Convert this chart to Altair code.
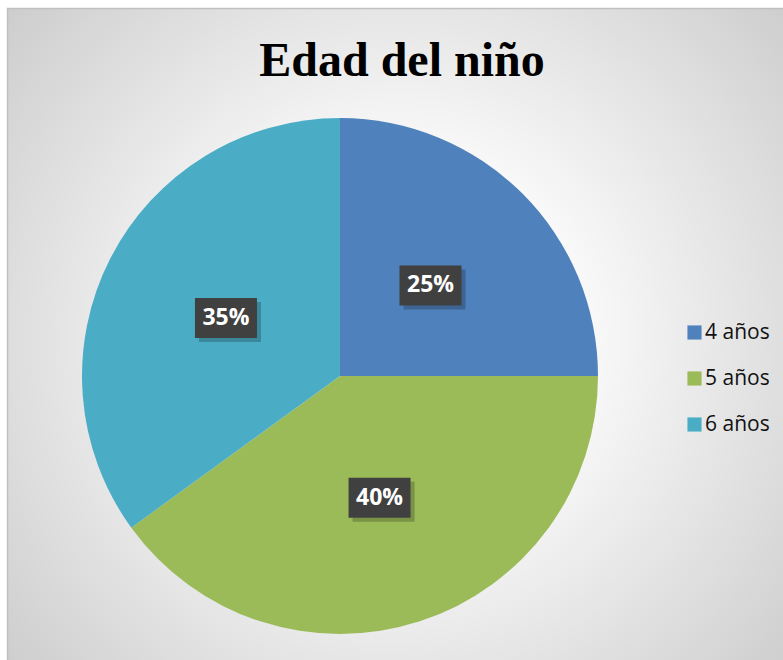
import altair as alt
import pandas as pd

# ---- data ----
TITLE = "Edad del niño"
categories = ["4 años", "5 años", "6 años"]
values = [25, 40, 35]
colors = ["#4F81BD", "#9BBB59", "#4BACC6"]

# ---- layout ----
W, H = 783, 660
CX, CY, R = 340, 376, 258
LR = 128  # label radius
BW, BH = 31, 20  # label box half sizes

df = pd.DataFrame({"edad": categories, "pct": values, "orden": list(range(len(values)))})

bg = alt.Chart(pd.DataFrame({"a": [0]})).mark_rect(
    fill=alt.RadialGradient(
        gradient="radial", x1=0.5, y1=0.5, x2=0.5, y2=0.5, r1=0, r2=0.72,
        stops=[alt.GradientStop(color="#ffffff", offset=0),
               alt.GradientStop(color="#ffffff", offset=0.25),
               alt.GradientStop(color="#c6c6c6", offset=1)]),
    stroke="#c0c0c0", strokeWidth=1.5,
).encode(x=alt.value(7.5), x2=alt.value(W + 10), y=alt.value(8.5), y2=alt.value(H + 10))

title = alt.Chart(pd.DataFrame({"t": [TITLE]})).mark_text(
    font="Liberation Serif", fontSize=48, fontWeight="bold", color="#000000",
    align="center", baseline="alphabetic",
).encode(text="t:N", x=alt.value(402), y=alt.value(76))

pie = alt.Chart(df).mark_arc(radius=R).encode(
    theta=alt.Theta("pct:Q", stack=True),
    color=alt.Color("edad:N", scale=alt.Scale(domain=categories, range=colors),
                    legend=alt.Legend(orient="none", legendX=684, legendY=322, title=None,
                                      symbolType="square", symbolSize=200, symbolStrokeWidth=0,
                                      labelFontSize=21, labelFont="Open Sans", labelColor="#111111",
                                      rowPadding=24, labelOffset=0, padding=0)),
    order=alt.Order("orden:Q"),
    x=alt.value(CX), y=alt.value(CY),
)

base = alt.Chart(df).transform_window(
    cum="sum(pct)", sort=[alt.SortField("orden")]
).transform_joinaggregate(total="sum(pct)").transform_calculate(
    ang=f"(datum.cum - datum.pct/2)/datum.total*2*PI",
).transform_calculate(
    cx=f"{CX} + {LR}*sin(datum.ang)",
    cy=f"{CY} - {LR}*cos(datum.ang)",
    label="datum.pct + '%'",
).transform_calculate(
    bx1=f"datum.cx - {BW}", bx2=f"datum.cx + {BW}",
    by1=f"datum.cy - {BH}", by2=f"datum.cy + {BH}",
    sx1=f"datum.cx - {BW} + 4", sx2=f"datum.cx + {BW} + 4",
    sy1=f"datum.cy - {BH} + 4", sy2=f"datum.cy + {BH} + 4",
)

shadow = base.mark_rect(color="#000000", opacity=0.22).encode(
    x=alt.X("sx1:Q", scale=None, axis=None), x2="sx2:Q",
    y=alt.Y("sy1:Q", scale=None, axis=None), y2="sy2:Q",
)
box = base.mark_rect(color="#404040").encode(
    x=alt.X("bx1:Q", scale=None, axis=None), x2="bx2:Q",
    y=alt.Y("by1:Q", scale=None, axis=None), y2="by2:Q",
)
text = base.mark_text(font="Open Sans", fontSize=23, fontWeight="bold", color="#ffffff",
                      align="center", baseline="middle").encode(
    x=alt.X("cx:Q", scale=None, axis=None),
    y=alt.Y("cy:Q", scale=None, axis=None),
    text="label:N",
)

chart = alt.layer(bg, title, pie, shadow, box, text).properties(
    width=W, height=H, autosize=alt.AutoSizeParams(type="none"), padding=0, background="#ffffff"
).configure_view(stroke=None)

chart.save("out.html", embed_options={"renderer": "svg", "actions": False})
